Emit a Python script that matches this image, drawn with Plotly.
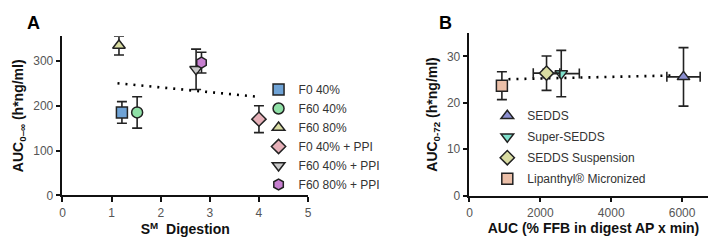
import plotly.graph_objects as go

# ---- Panel A data ----
a_names = ["F0 40%", "F60 40%", "F60 80%", "F0 40% + PPI", "F60 40% + PPI", "F60 80% + PPI"]
a_x = [1.21, 1.52, 1.15, 4.0, 2.72, 2.83]
a_y = [185, 185, 334, 170, 281, 296]
a_err = [24, 35, 21, 30, 45, 23]
a_symbols = ["square", "circle", "triangle-up", "diamond", "triangle-down", "hexagon"]
a_colors = ["#6fa3d6", "#8fe0a6", "#d9dca2", "#e6b0b8", "#c9c9c9", "#c77fd0"]
a_trend_x = [1.12, 3.97]
a_trend_y = [250, 220]

# ---- Panel B data ----
b_names = ["SEDDS", "Super-SEDDS", "SEDDS Suspension", "Lipanthyl® Micronized"]
b_x = [6040, 2590, 2175, 915]
b_y = [25.6, 26.3, 26.4, 23.7]
b_yerr = [6.3, 5.0, 3.7, 3.0]
b_xerr = [470, 510, 375, 0]
b_symbols = ["triangle-up", "triangle-down", "diamond", "square"]
b_colors = ["#8b8fd0", "#7fe0cc", "#d9dca2", "#ebbfa8"]
b_trend_x = [1100, 5750]
b_trend_y = [25.1, 25.9]

W, H = 716, 241
FONT = "Liberation Sans, Arial, sans-serif"

fig = go.Figure()

fig.add_trace(go.Scatter(x=a_trend_x, y=a_trend_y, mode="lines",
                         line=dict(color="black", width=2.6, dash="2px,6px"),
                         showlegend=False, xaxis="x", yaxis="y", hoverinfo="skip"))
for n, x, y, e, s, c in zip(a_names, a_x, a_y, a_err, a_symbols, a_colors):
    fig.add_trace(go.Scatter(
        x=[x], y=[y], name=n, mode="markers",
        marker=dict(symbol=s, size=11, color=c, line=dict(color="#222", width=1.5)),
        error_y=dict(type="constant", value=e, color="#222", thickness=1.6, width=5),
        xaxis="x", yaxis="y", legend="legend"))

fig.add_trace(go.Scatter(x=b_trend_x, y=b_trend_y, mode="lines",
                         line=dict(color="black", width=2.6, dash="2px,6px"),
                         showlegend=False, xaxis="x2", yaxis="y2", hoverinfo="skip"))
for n, x, y, ey, ex, s, c in zip(b_names, b_x, b_y, b_yerr, b_xerr, b_symbols, b_colors):
    fig.add_trace(go.Scatter(
        x=[x], y=[y], name=n, mode="markers", legendgroup=n,
        marker=dict(symbol=s, size=11, color=c, line=dict(color="#222", width=1.5)),
        error_y=dict(type="constant", value=ey, color="#222", thickness=1.6, width=5),
        error_x=dict(type="constant", value=ex, color="#222", thickness=1.6, width=5, visible=ex > 0),
        xaxis="x2", yaxis="y2", legend="legend2"))

def px(v):
    return v / W

def py(v):
    return 1 - v / H

axis_common = dict(showgrid=False, zeroline=False, showline=True, linecolor="#111", linewidth=1.6,
                   ticks="outside", ticklen=5, tickwidth=1.6, tickcolor="#111",
                   tickfont=dict(family=FONT, size=12, color="#555"))

fig.update_layout(
    width=W, height=H, margin=dict(l=0, r=0, t=0, b=0),
    paper_bgcolor="white", plot_bgcolor="white",
    font=dict(family=FONT),
    xaxis=dict(domain=[px(52), px(300)], range=[0, 5], tickvals=[0, 1, 2, 3, 4, 5],
               anchor="y", title=dict(text="<b>S<sup>M</sup>  Digestion</b>", standoff=6,
                                      font=dict(size=14, color="#111", family=FONT)),
               **axis_common),
    yaxis=dict(domain=[py(193), py(29)], range=[0, 355], tickvals=[0, 100, 200, 300],
               anchor="x", title=dict(text="<b>AUC<sub>0–∞</sub> (h*ng/ml)</b>", standoff=6,
                                      font=dict(size=14, color="#111", family=FONT)),
               **axis_common),
    xaxis2=dict(domain=[px(463), px(713.5)], range=[0, 7000], tickvals=[0, 2000, 4000, 6000],
                anchor="y2", title=dict(text="<b>AUC (% FFB in digest AP x min)</b>", standoff=3,
                                        font=dict(size=14, color="#111", family=FONT)),
                **axis_common),
    yaxis2=dict(domain=[py(193.3), py(26)], range=[0, 35], tickvals=[0, 10, 20, 30],
                anchor="x2", title=dict(text="<b>AUC<sub>0-72</sub> (h*ng/ml)</b>", standoff=6,
                                        font=dict(size=14, color="#111", family=FONT)),
                **axis_common),
    legend=dict(x=px(250), y=py(69), xanchor="left", yanchor="top",
                bgcolor="rgba(0,0,0,0)", font=dict(family=FONT, size=12, color="#333"),
                tracegroupgap=0),
    legend2=dict(x=px(481), y=py(96), xanchor="left", yanchor="top",
                 bgcolor="rgba(0,0,0,0)", font=dict(family=FONT, size=12, color="#333"),
                 tracegroupgap=2),
    annotations=[
        dict(text="<b>A</b>", x=px(14), y=py(3), xref="paper", yref="paper",
             xanchor="left", yanchor="top", showarrow=False,
             font=dict(family=FONT, size=18, color="black")),
        dict(text="<b>B</b>", x=px(430), y=py(3), xref="paper", yref="paper",
             xanchor="left", yanchor="top", showarrow=False,
             font=dict(family=FONT, size=18, color="black")),
    ],
)

fig.write_html("out.html")
